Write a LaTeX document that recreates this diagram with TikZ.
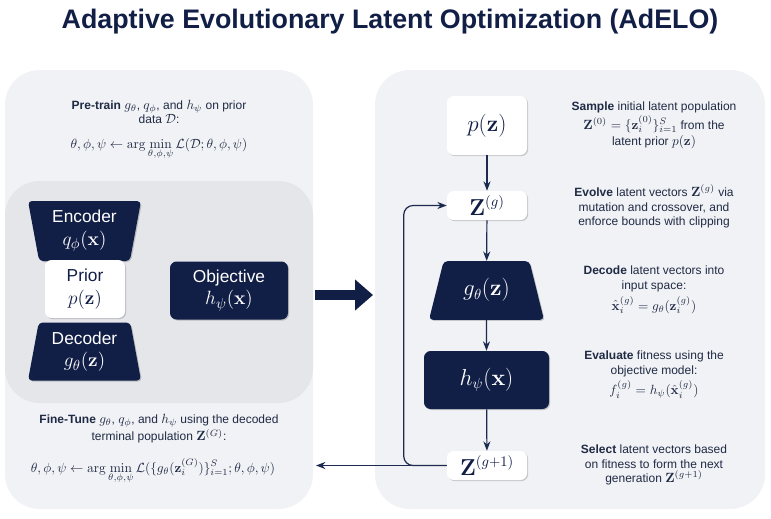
\documentclass[tikz,border=0pt]{standalone}
\usepackage{amsmath,amssymb}
\usepackage[no-math]{fontspec}
\setmainfont{Liberation Sans}
\usetikzlibrary{arrows.meta,calc,positioning,shapes.geometric,shadows}
\DeclareMathSizes{9}{10}{7}{5}
\DeclareMathSizes{13}{15}{10.5}{7.5}
\definecolor{adnavy}{HTML}{111E46}
\definecolor{adink}{HTML}{1F2A44}
\definecolor{adline}{HTML}{1B2A4E}
\definecolor{adpanel}{HTML}{F1F2F5}
\definecolor{adinner}{HTML}{E4E6EA}
\tikzset{
  title/.style={font=\fontsize{20.1}{24}\selectfont\bfseries,text=adnavy,inner sep=0pt,anchor=base},
  desc/.style={align=center,text=adink,font=\fontsize{9}{11}\selectfont,inner sep=0pt},
  boxshadow/.style={drop shadow={shadow xshift=0.8pt,shadow yshift=-0.8pt,opacity=0.18,fill=black}},
  whitebox/.style={fill=white,rounded corners=5pt,align=center,text=adnavy,inner sep=0pt,boxshadow},
  navybox/.style={fill=adnavy,rounded corners=5pt,align=center,text=white,inner sep=0pt,boxshadow},
  navytrap/.style={trapezium,trapezium stretches body,trapezium angle=75,fill=adnavy,rounded corners=3pt,
    align=center,text=white,inner sep=0pt,minimum width=84.75pt,boxshadow},
  leftfont/.style={font=\fontsize{13}{17}\selectfont},
  bigfont/.style={font=\fontsize{16}{19}\selectfont},
  flow/.style={draw=adline,line width=0.9pt},
  bigflow/.style={draw=adnavy,line width=7.5pt,-{Triangle[length=13.5pt,width=22.5pt]}}
}
\begin{document}
\begin{tikzpicture}[x=0.75pt,y=-0.75pt,>=Stealth]
  \useasboundingbox (0,0) rectangle (771,518);
  \fill[adpanel,rounded corners=26pt] (5,70) rectangle (313,509);
  \fill[adinner,rounded corners=26pt] (5,181) rectangle (313,403);
  \fill[adpanel,rounded corners=26pt] (375,70) rectangle (765,509);

  \node[title] (title) at (390,28) {Adaptive Evolutionary Latent Optimization (AdELO)};

  \node[desc] (pretrain) at (159,112) {\textbf{Pre-train} $g_\theta$, $q_\phi$, and $h_\psi$ on prior\\ data $\mathcal{D}$:};
  \node[desc] (preloss) at (159,149) {$\displaystyle\theta,\phi,\psi\leftarrow\arg\min_{\theta,\phi,\psi}\mathcal{L}(\mathcal{D};\theta,\phi,\psi)$};

  \node[navytrap,leftfont,shape border rotate=180,minimum height=45pt] (encoder) at (84.5,231) {Encoder\\ $q_\phi(\mathbf{x})$};
  \node[whitebox,leftfont,minimum width=60pt,minimum height=43.5pt] (prior) at (85,289) {Prior\\ $p(\mathbf{z})$};
  \node[navytrap,leftfont,minimum height=43.5pt] (decoder) at (84.5,351.5) {Decoder\\ $g_\theta(\mathbf{z})$};
  \node[navybox,leftfont,minimum width=88.5pt,minimum height=43.5pt] (objective) at (229,290.5) {Objective\\ $h_\psi(\mathbf{x})$};

  \node[desc] (finetune) at (159,429) {\textbf{Fine-Tune} $g_\theta$, $q_\phi$, and $h_\psi$ using the decoded\\ terminal population $\mathbf{Z}^{(G)}$:};
  \node[desc] (ftloss) at (153,471) {$\displaystyle\theta,\phi,\psi\leftarrow\arg\min_{\theta,\phi,\psi}\mathcal{L}(\{g_\theta(\mathbf{z}_i^{(G)})\}_{i=1}^{S};\theta,\phi,\psi)$};

  \coordinate (flowA) at (315,295);
  \coordinate (flowB) at (373,295);
  \draw[bigflow] (flowA) -- (flowB);

  \node[whitebox,bigfont,minimum width=60pt,minimum height=44.25pt] (pz) at (487,125.5) {$p(\mathbf{z})$};
  \node[whitebox,bigfont,minimum width=60pt,minimum height=21.75pt] (zg) at (487,205.5) {$\mathbf{Z}^{(g)}$};
  \node[navytrap,bigfont,minimum width=86.25pt,text height=12pt,text depth=4pt,inner ysep=14pt,trapezium angle=76] (gz) at (486.5,290.5) {$g_\theta(\mathbf{z})$};
  \node[navybox,bigfont,minimum width=93.75pt,minimum height=43.5pt] (hx) at (486.5,380) {$h_\psi(\mathbf{x})$};
  \node[whitebox,bigfont,minimum width=60pt,minimum height=21.75pt] (zgnext) at (487,465.5) {$\mathbf{Z}^{(g+1)}$};

  \draw[flow,->] (pz) -- (zg);
  \draw[flow,->] (zg) -- (gz);
  \draw[flow,->] (gz) -- (hx);
  \draw[flow,->] (hx) -- (zgnext);
  \coordinate (ftend) at (316,465.5);
  \draw[flow,->] (zgnext.west) -- (ftend);
  \draw[flow,->,rounded corners=7pt] (zgnext.west) -- ++(-43,0) |- (zg.west);

  \node[desc] (sample) at (654,125) {\textbf{Sample} initial latent population\\[1pt] $\mathbf{Z}^{(0)}=\{\mathbf{z}_i^{(0)}\}_{i=1}^{S}$ from the\\[1pt] latent prior $p(\mathbf{z})$};
  \node[desc] (evolve) at (654,206.5) {\textbf{Evolve} latent vectors $\mathbf{Z}^{(g)}$ via\\ mutation and crossover, and\\ enforce bounds with clipping};
  \node[desc] (decode) at (654,290) {\textbf{Decode} latent vectors into\\ input space:\\[2pt] $\hat{\mathbf{x}}_i^{(g)}=g_\theta(\mathbf{z}_i^{(g)})$};
  \node[desc] (evaluate) at (654,374.5) {\textbf{Evaluate} fitness using the\\ objective model:\\[2pt] $f_i^{(g)}=h_\psi(\hat{\mathbf{x}}_i^{(g)})$};
  \node[desc] (select) at (654,465) {\textbf{Select} latent vectors based\\ on fitness to form the next\\ generation $\mathbf{Z}^{(g+1)}$};
\end{tikzpicture}
\end{document}
